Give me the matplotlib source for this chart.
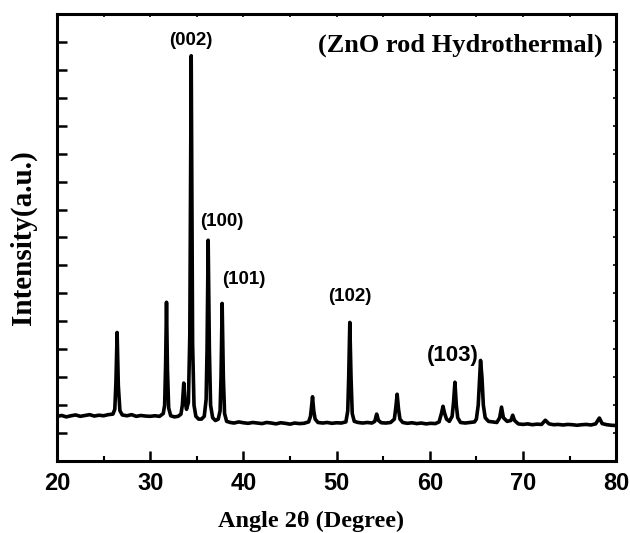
import matplotlib

matplotlib.use("Agg")
import matplotlib.pyplot as plt
from matplotlib.ticker import MultipleLocator

# XRD trace (y in arbitrary units, one unit per y tick)
two_theta = [
    20.0, 20.5, 21.0, 21.5, 22.0, 22.5, 23.0, 23.5, 24.0, 24.5, 25.0, 25.5, 26.0,
    26.2, 26.32, 26.45, 26.58, 26.75, 27.0, 27.5, 28.0, 28.5, 29.0, 29.5, 30.0,
    30.5, 31.0, 31.4, 31.55, 31.65, 31.75, 31.85, 31.98, 32.2, 32.6, 33.0, 33.3,
    33.45, 33.6, 33.75, 33.9, 34.1, 34.25, 34.4, 34.55, 34.7, 34.9, 35.2, 35.5,
    35.8, 36.0, 36.1, 36.22, 36.35, 36.48, 36.7, 37.0, 37.3, 37.5, 37.6, 37.72,
    37.85, 37.98, 38.2, 38.6, 39.0, 39.5, 40.0, 40.5, 41.0, 41.5, 42.0, 42.5,
    43.0, 43.5, 44.0, 44.5, 45.0, 45.5, 46.0, 46.5, 47.0, 47.2, 47.3, 47.42,
    47.55, 47.7, 48.0, 48.5, 49.0, 49.5, 50.0, 50.5, 51.0, 51.2, 51.3, 51.42,
    51.55, 51.68, 51.9, 52.3, 52.8, 53.3, 53.8, 54.1, 54.3, 54.5, 54.8, 55.3,
    55.8, 56.2, 56.35, 56.5, 56.65, 56.8, 57.1, 57.6, 58.1, 58.6, 59.1, 59.6,
    60.1, 60.6, 61.0, 61.25, 61.42, 61.6, 61.8, 62.1, 62.4, 62.55, 62.7, 62.85,
    63.0, 63.3, 63.8, 64.3, 64.8, 65.0, 65.2, 65.35, 65.45, 65.6, 65.75, 65.95,
    66.3, 66.8, 67.2, 67.5, 67.7, 67.9, 68.3, 68.7, 68.9, 69.1, 69.5, 70.0,
    70.5, 71.0, 71.5, 72.0, 72.4, 72.8, 73.3, 73.8, 74.3, 74.8, 75.3, 75.8,
    76.3, 76.8, 77.3, 77.8, 78.2, 78.5, 79.0, 79.5, 80.0,
]
intensity = [
    1.60, 1.63, 1.58, 1.62, 1.65, 1.60, 1.63, 1.66, 1.61, 1.64, 1.62, 1.66, 1.68,
    1.85, 2.8, 4.6, 2.7, 1.8, 1.65, 1.62, 1.66, 1.60, 1.63, 1.61, 1.60,
    1.62, 1.60, 1.70, 2.0, 3.4, 5.68, 3.3, 1.9, 1.62, 1.58, 1.60, 1.68,
    2.0, 2.79, 2.1, 1.85, 2.1, 4.5, 14.5, 4.2, 2.0, 1.6, 1.5, 1.5,
    1.6, 2.2, 4.0, 7.9, 4.0, 2.0, 1.55, 1.45, 1.5, 1.8, 3.0, 5.64,
    3.0, 1.7, 1.42, 1.38, 1.36, 1.40, 1.37, 1.35, 1.38, 1.36, 1.34, 1.38,
    1.36, 1.33, 1.37, 1.35, 1.32, 1.36, 1.34, 1.35, 1.40, 1.6, 1.9, 2.3,
    1.8, 1.5, 1.38, 1.36, 1.38, 1.35, 1.37, 1.36, 1.40, 1.8, 3.0, 4.96,
    3.0, 1.7, 1.42, 1.38, 1.36, 1.38, 1.36, 1.42, 1.68, 1.45, 1.37, 1.36,
    1.38, 1.5, 1.9, 2.39, 1.85, 1.5, 1.38, 1.35, 1.37, 1.34, 1.36, 1.33,
    1.35, 1.34, 1.40, 1.7, 1.96, 1.7, 1.50, 1.42, 1.6, 2.1, 2.82, 2.0,
    1.55, 1.38, 1.36, 1.38, 1.40, 1.5, 2.0, 3.0, 3.6, 3.0, 2.0, 1.55,
    1.42, 1.40, 1.38, 1.55, 1.93, 1.55, 1.42, 1.45, 1.64, 1.45, 1.33, 1.31,
    1.33, 1.30, 1.32, 1.31, 1.46, 1.33, 1.30, 1.31, 1.29, 1.31, 1.30, 1.28,
    1.30, 1.31, 1.29, 1.33, 1.54, 1.34, 1.30, 1.28, 1.27,
]

peak_labels = ["(002)", "(100)", "(101)", "(102)", "(103)"]
label_x = [34.4, 37.7, 40.0, 51.4, 62.5]
label_y = [14.75, 8.25, 6.2, 5.6, 3.4]
label_size = [13.5, 13.5, 13.5, 13.5, 16]

fig = plt.figure(figsize=(6.3, 5.33), dpi=100)
ax = fig.add_axes([0.0905, 0.135, 0.8875, 0.839])

ax.plot(two_theta, intensity, color="black", lw=2.6, solid_joinstyle="round")

ax.set_xlim(20, 80)
ax.set_ylim(0, 16)
ax.xaxis.set_major_locator(MultipleLocator(10))
ax.xaxis.set_minor_locator(MultipleLocator(5))
ax.yaxis.set_major_locator(MultipleLocator(1))
ax.set_yticklabels([])

for s in ax.spines.values():
    s.set_linewidth(2.2)

ax.tick_params(axis="x", which="major", direction="in", length=7, width=1.8,
               top=True, labelsize=17, pad=8)
ax.tick_params(axis="x", which="minor", direction="in", length=3.5, width=1.5, top=True)
ax.tick_params(axis="y", which="major", direction="in", length=7, width=1.8, right=True)
for lab in ax.get_xticklabels():
    lab.set_fontfamily("Liberation Sans")
    lab.set_fontweight("bold")

# shorter ticks on the top and right edges
for t in ax.xaxis.get_major_ticks() + ax.xaxis.get_minor_ticks():
    t.tick2line.set_markersize(2.5)
    t.tick2line.set_markeredgewidth(1.2)
for t in ax.yaxis.get_major_ticks():
    t.tick2line.set_markersize(2.5)
    t.tick2line.set_markeredgewidth(1.2)

ax.set_xlabel("Angle 2θ (Degree)", fontfamily="Liberation Serif", fontweight="bold",
              fontsize=17.5)
ax.xaxis.set_label_coords(0.455, -0.112)
ax.set_ylabel("Intensity(a.u.)", fontfamily="Liberation Serif", fontweight="bold",
              fontsize=21)
ax.yaxis.set_label_coords(-0.036, 0.5)

for txt, x, y, fs in zip(peak_labels, label_x, label_y, label_size):
    ax.text(x, y, txt, ha="center", va="bottom", fontsize=fs,
            fontfamily="Liberation Sans", fontweight="bold")

ax.text(0.976, 0.929, "(ZnO rod Hydrothermal)", transform=ax.transAxes, ha="right",
        va="center", fontsize=19, fontfamily="Liberation Serif", fontweight="bold")

fig.savefig("out.png", dpi=100)
